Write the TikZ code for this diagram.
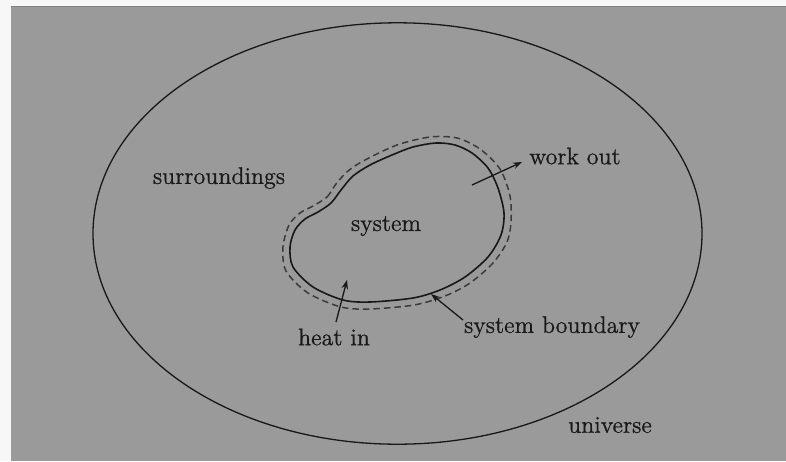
\documentclass[tikz,border=0pt]{standalone}
\usepackage{fontspec}
\newfontfamily\lblfont{lmroman12-regular.otf}[FakeBold=0.8]
\usetikzlibrary{arrows.meta}
\definecolor{bggray}{RGB}{154,154,154}
\definecolor{inkc}{RGB}{24,24,24}
\begin{document}
\begin{tikzpicture}[x=1pt,y=-1pt,
  lbl/.style={text=black!90,font=\lblfont\fontsize{24}{28}\selectfont,inner sep=0pt},
  flow/.style={draw=inkc,line width=1.3pt,-{Stealth[length=9pt,width=6.5pt]}},
  bound/.style={draw=inkc,line width=1.6pt},
  dashbound/.style={draw=inkc!85,line width=1.5pt,dash pattern=on 6.5pt off 4pt}]
\fill[white!97!black] (0,0) rectangle (786,461);
\useasboundingbox (0,0) rectangle (786,461);
\fill[bggray] (11,6) rectangle (786,461);
\draw[bggray!85!black,line width=1pt] (11,6.5) -- (786,6.5);
% universe
\draw[draw=inkc,line width=1.3pt] (397.5,233.5) ellipse [x radius=304.5, y radius=210.7];
% system boundary (solid)
\draw[bound] plot[smooth cycle, tension=0.5] coordinates {
 (318,212) (331,203) (341,190) (353,176) (370,165) (392,155) (413,147) (436,143)
 (455,145) (472,153) (488,168) (498,188) (504,213) (501,235) (488,257) (465,277)
 (440,290) (413,298) (370,302) (343,300) (313,287) (293,267) (290,247) (295,230) (305,219)};
% dashed boundary
\draw[dashbound] plot[smooth cycle, tension=0.5] coordinates {
 (313,206) (327,197) (336,184) (348,171) (365,160) (397,145) (430,137) (457,138)
 (480,149) (500,169) (510,196) (511,222) (507,242) (493,263) (470,283) (445,296)
 (414,305) (370,309) (341,307) (308,293) (286,271) (283,247) (289,225) (300,213)};
% labels
\node[lbl] (surr) at (219,178) {surroundings};
\node[lbl] (sys) at (386,226) {system};
\node[lbl] (work) at (575,156) {work out};
\node[lbl] (heat) at (334,337) {heat in};
\node[lbl] (sb) at (552,327) {system boundary};
\node[lbl] (univ) at (610,425) {universe};
% arrows
\coordinate (w0) at (472,185);
\coordinate (w1) at (522,162);
\coordinate (h0) at (336,322);
\coordinate (h1) at (347,280);
\coordinate (b0) at (463,320);
\coordinate (b1) at (431,294);
\draw[flow] (w0) -- (w1);
\draw[flow] (h0) -- (h1);
\draw[flow] (b0) -- (b1);
\end{tikzpicture}
\end{document}
